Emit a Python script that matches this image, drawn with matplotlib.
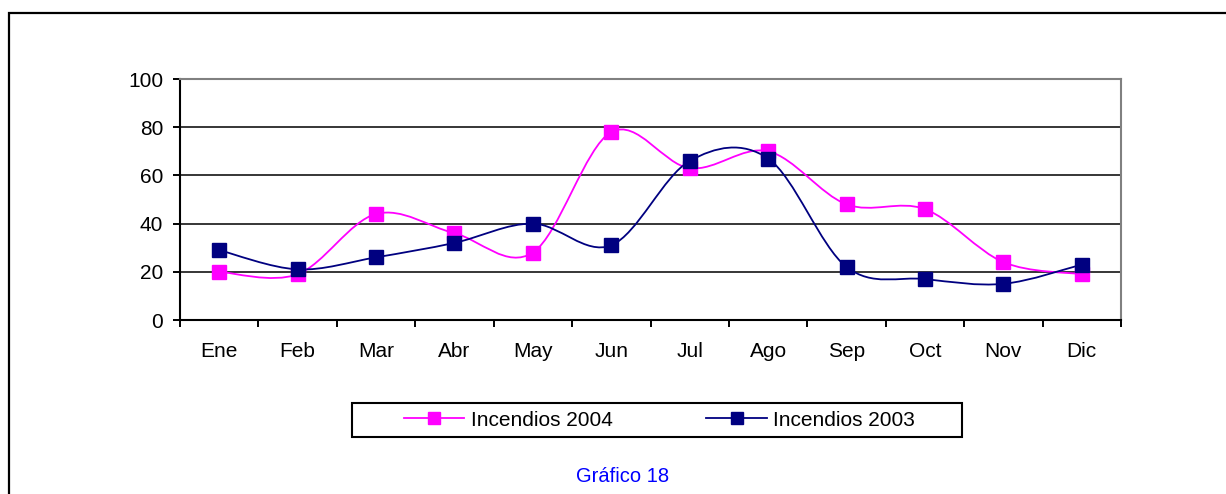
import matplotlib
matplotlib.use("Agg")
import matplotlib.pyplot as plt
import numpy as np
from matplotlib.lines import Line2D
from matplotlib.patches import PathPatch, Rectangle
from matplotlib.path import Path

months = ["Ene", "Feb", "Mar", "Abr", "May", "Jun",
          "Jul", "Ago", "Sep", "Oct", "Nov", "Dic"]
incendios_2004 = [20, 19, 44, 36, 28, 78, 63, 70, 48, 46, 24, 19]
incendios_2003 = [29, 21, 26, 32, 40, 31, 66, 67, 22, 17, 15, 23]

C2004 = "#ff00ff"
C2003 = "#000080"

plt.rcParams["font.family"] = ["Liberation Sans", "DejaVu Sans"]


def smooth_path(xs, ys):
    # Excel-style "smoothed line": Catmull-Rom segments as cubic Beziers
    p = np.column_stack([xs, ys]).astype(float)
    ext = np.vstack([p[0], p, p[-1]])
    verts, codes = [tuple(p[0])], [Path.MOVETO]
    for i in range(len(p) - 1):
        p0, p1, p2, p3 = ext[i], ext[i + 1], ext[i + 2], ext[i + 3]
        verts += [tuple(p1 + (p2 - p0) / 6), tuple(p2 - (p3 - p1) / 6), tuple(p2)]
        codes += [Path.CURVE4] * 3
    return Path(verts, codes)


fig = plt.figure(figsize=(12.26, 4.94), dpi=100)
ax = fig.add_axes([180 / 1226, 1 - 320 / 494, 941 / 1226, 241 / 494])

x = np.arange(len(months))
for ys, col in [(incendios_2004, C2004), (incendios_2003, C2003)]:
    ax.add_patch(PathPatch(smooth_path(x, ys), facecolor="none",
                           edgecolor=col, lw=1.3, zorder=3))
    ax.plot(x, ys, ls="none", marker="s", ms=9.5, color=col, zorder=4)

ax.set_xlim(-0.5, len(months) - 0.5)
ax.set_ylim(0, 100)
ax.set_yticks(range(0, 101, 20))
ax.yaxis.grid(True, color="black", lw=1.1)
ax.set_axisbelow(True)

ax.set_xticks(x)
ax.set_xticklabels(months, fontsize=15)
ax.set_xticks(np.arange(-0.5, len(months), 1), minor=True)
ax.tick_params(axis="x", which="major", length=0, pad=16)
ax.tick_params(axis="x", which="minor", length=5, width=1.4, color="black")
ax.tick_params(axis="y", labelsize=15, length=5, width=1.4, pad=7)

for s in ("left", "bottom"):
    ax.spines[s].set_color("black")
    ax.spines[s].set_linewidth(1.5)
for s in ("top", "right"):
    ax.spines[s].set_color("#808080")
    ax.spines[s].set_linewidth(1.5)

# legend
handles = [Line2D([], [], color=C2004, lw=1.3, marker="s", ms=9),
           Line2D([], [], color=C2003, lw=1.3, marker="s", ms=9)]
fig.legend(handles, ["Incendios 2004", "Incendios 2003"], ncol=2,
           loc="center left", bbox_to_anchor=(404 / 1226, 1 - 420 / 494),
           frameon=False, fontsize=15, borderpad=0, borderaxespad=0,
           handlelength=2.9, handletextpad=0.3, columnspacing=4.5)
fig.patches.append(Rectangle((352 / 1226, 1 - 437 / 494), 610 / 1226, 34 / 494,
                             transform=fig.transFigure, fill=False,
                             edgecolor="black", lw=1.5))

# outer chart border (cropped on right and bottom)
fig.patches.append(Rectangle((9 / 1226, -0.2), 2, 1.2 - 13 / 494,
                             transform=fig.transFigure, fill=False,
                             edgecolor="black", lw=1.6, clip_on=False))

fig.text(623 / 1226, 1 - 476 / 494, "Gráfico 18", color="#0000ff",
         fontsize=14.5, ha="center", va="center")

fig.savefig("out.png", dpi=100)
